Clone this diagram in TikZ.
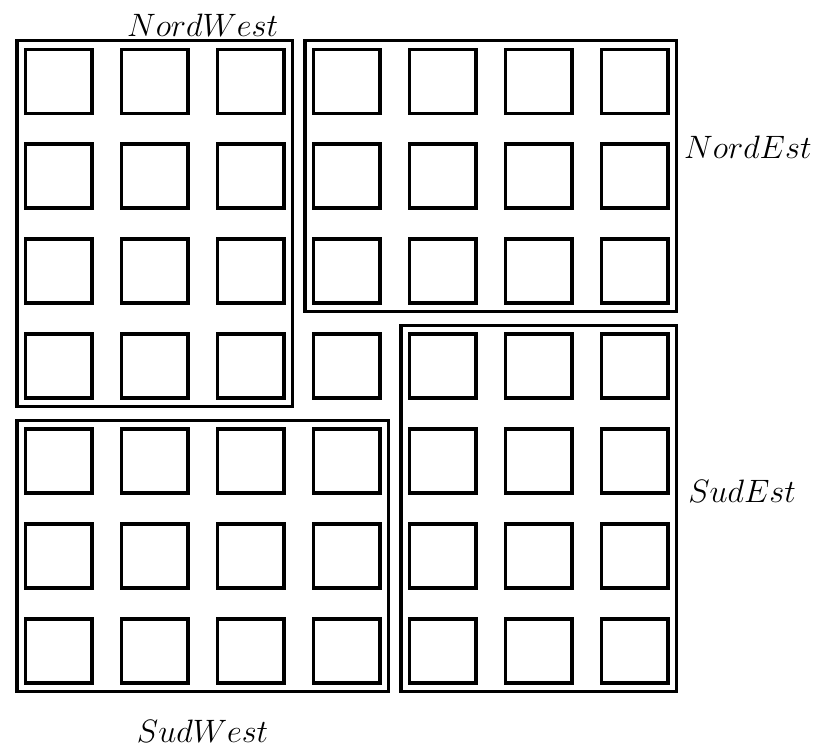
\documentclass[tikz,border=0pt]{standalone}
\usepackage{tikz}
\usetikzlibrary{positioning,fit}

\begin{document}
\begin{tikzpicture}[
  x=1.5cm, y=-1.484cm,
  cell/.style={draw, line width=1.5pt, minimum width=1.04cm, minimum height=1.0cm, inner sep=0pt},
  zone/.style={draw, line width=1.5pt, inner sep=0.105cm},
  tag/.style={font=\Large}
]
  \useasboundingbox (0,0) rectangle (8.656,7.905);

  % 7x7 grid of squares
  \foreach \r in {0,...,6}
    \foreach \c in {0,...,6}
      \node[cell] (sq-\r-\c) at (0.61+\c, 0.855+\r) {};

  % the four quadrants
  \node[zone, fit=(sq-0-0)(sq-3-2)] (nw) {};
  \node[zone, fit=(sq-0-3)(sq-2-6)] (ne) {};
  \node[zone, fit=(sq-4-0)(sq-6-3)] (sw) {};
  \node[zone, fit=(sq-3-4)(sq-6-6)] (se) {};

  \node[tag] (nwlabel) at (2.11,0.27) {$NordWest$};
  \node[tag] (nelabel) at (7.79,1.55) {$NordEst$};
  \node[tag] (selabel) at (7.73,5.17) {$SudEst$};
  \node[tag] (swlabel) at (2.11,7.7) {$SudWest$};
\end{tikzpicture}
\end{document}
